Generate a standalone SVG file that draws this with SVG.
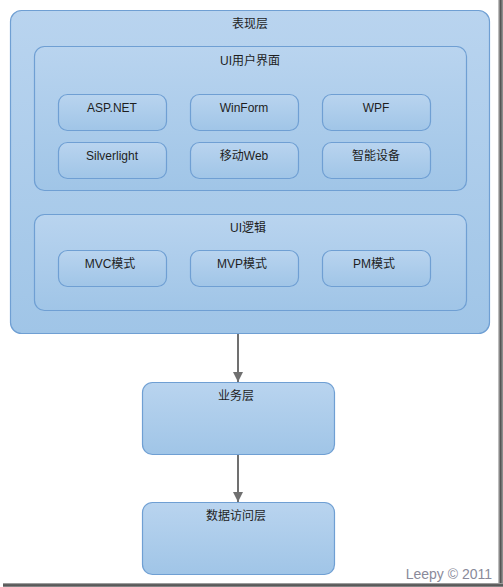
<svg xmlns="http://www.w3.org/2000/svg" width="503" height="587" viewBox="0 0 503 587">
<defs>
<linearGradient id="g" x1="0" y1="0" x2="0" y2="1">
<stop offset="0" stop-color="#b9d4ef"/>
<stop offset="1" stop-color="#a0c5e7"/>
</linearGradient>
<linearGradient id="sr" x1="0" y1="0" x2="1" y2="0">
<stop offset="0" stop-color="#d8d8d8"/>
<stop offset="0.5" stop-color="#555"/>
<stop offset="1" stop-color="#9a9a9a"/>
</linearGradient>
<linearGradient id="sb" x1="0" y1="0" x2="0" y2="1">
<stop offset="0" stop-color="#bbb"/>
<stop offset="0.5" stop-color="#444"/>
<stop offset="1" stop-color="#999"/>
</linearGradient>
<marker id="ah" viewBox="0 0 10 10" refX="10" refY="5" markerWidth="10" markerHeight="10" markerUnits="userSpaceOnUse" orient="auto">
<path d="M0,0 L10,5 L0,10 Z" fill="#707070"/>
</marker>
</defs>
<style>
.box{fill:url(#g);stroke:#6f9fd3;stroke-width:1.2}
.t{font-family:"Liberation Sans","Noto Sans CJK SC",sans-serif;font-size:12px;fill:#1e1e1e;text-anchor:middle}
.c{stroke:#707070;stroke-width:2;fill:none}
</style>
<rect x="0" y="0" width="503" height="587" fill="#ffffff"/>
<rect x="498" y="0" width="5" height="587" fill="url(#sr)"/>
<rect x="3" y="583" width="500" height="4" fill="url(#sb)"/>

<g id="presentation">
<rect class="box" x="10.5" y="10.5" width="479" height="323" rx="11"/>
<text class="t" x="250" y="28">表现层</text>
</g>
<g id="ui">
<rect class="box" x="34.5" y="46.5" width="432" height="144" rx="10"/>
<text class="t" x="250" y="65">UI用户界面</text>
</g>
<g id="aspnet"><rect class="box" x="58.5" y="94.5" width="108" height="36" rx="9"/><text class="t" x="112" y="112">ASP.NET</text></g>
<g id="winform"><rect class="box" x="190.5" y="94.5" width="108" height="36" rx="9"/><text class="t" x="244" y="112">WinForm</text></g>
<g id="wpf"><rect class="box" x="322.5" y="94.5" width="108" height="36" rx="9"/><text class="t" x="376" y="112">WPF</text></g>
<g id="silverlight"><rect class="box" x="58.5" y="142.5" width="108" height="36" rx="9"/><text class="t" x="112" y="160">Silverlight</text></g>
<g id="mobileweb"><rect class="box" x="190.5" y="142.5" width="108" height="36" rx="9"/><text class="t" x="244" y="160">移动Web</text></g>
<g id="smart"><rect class="box" x="322.5" y="142.5" width="108" height="36" rx="9"/><text class="t" x="376" y="160">智能设备</text></g>

<g id="uilogic">
<rect class="box" x="34.5" y="214.5" width="432" height="96" rx="10"/>
<text class="t" x="248" y="232">UI逻辑</text>
</g>
<g id="mvc"><rect class="box" x="58.5" y="250.5" width="108" height="36" rx="9"/><text class="t" x="110" y="268">MVC模式</text></g>
<g id="mvp"><rect class="box" x="190.5" y="250.5" width="108" height="36" rx="9"/><text class="t" x="242" y="268">MVP模式</text></g>
<g id="pm"><rect class="box" x="322.5" y="250.5" width="108" height="36" rx="9"/><text class="t" x="374" y="268">PM模式</text></g>

<g id="business">
<rect class="box" x="142.5" y="382.5" width="192" height="72" rx="10"/>
<text class="t" x="236" y="400">业务层</text>
</g>
<g id="dataaccess">
<rect class="box" x="142.5" y="502.5" width="192" height="72" rx="10"/>
<text class="t" x="236" y="520">数据访问层</text>
</g>

<g id="connectors">
<line class="c" x1="238" y1="334" x2="238" y2="382" marker-end="url(#ah)"/>
<line class="c" x1="238" y1="455" x2="238" y2="502" marker-end="url(#ah)"/>
</g>

<text x="492" y="579" style="font-family:'Liberation Sans',sans-serif;font-size:14px;fill:#8a8a9a;text-anchor:end">Leepy © 2011</text>
</svg>
